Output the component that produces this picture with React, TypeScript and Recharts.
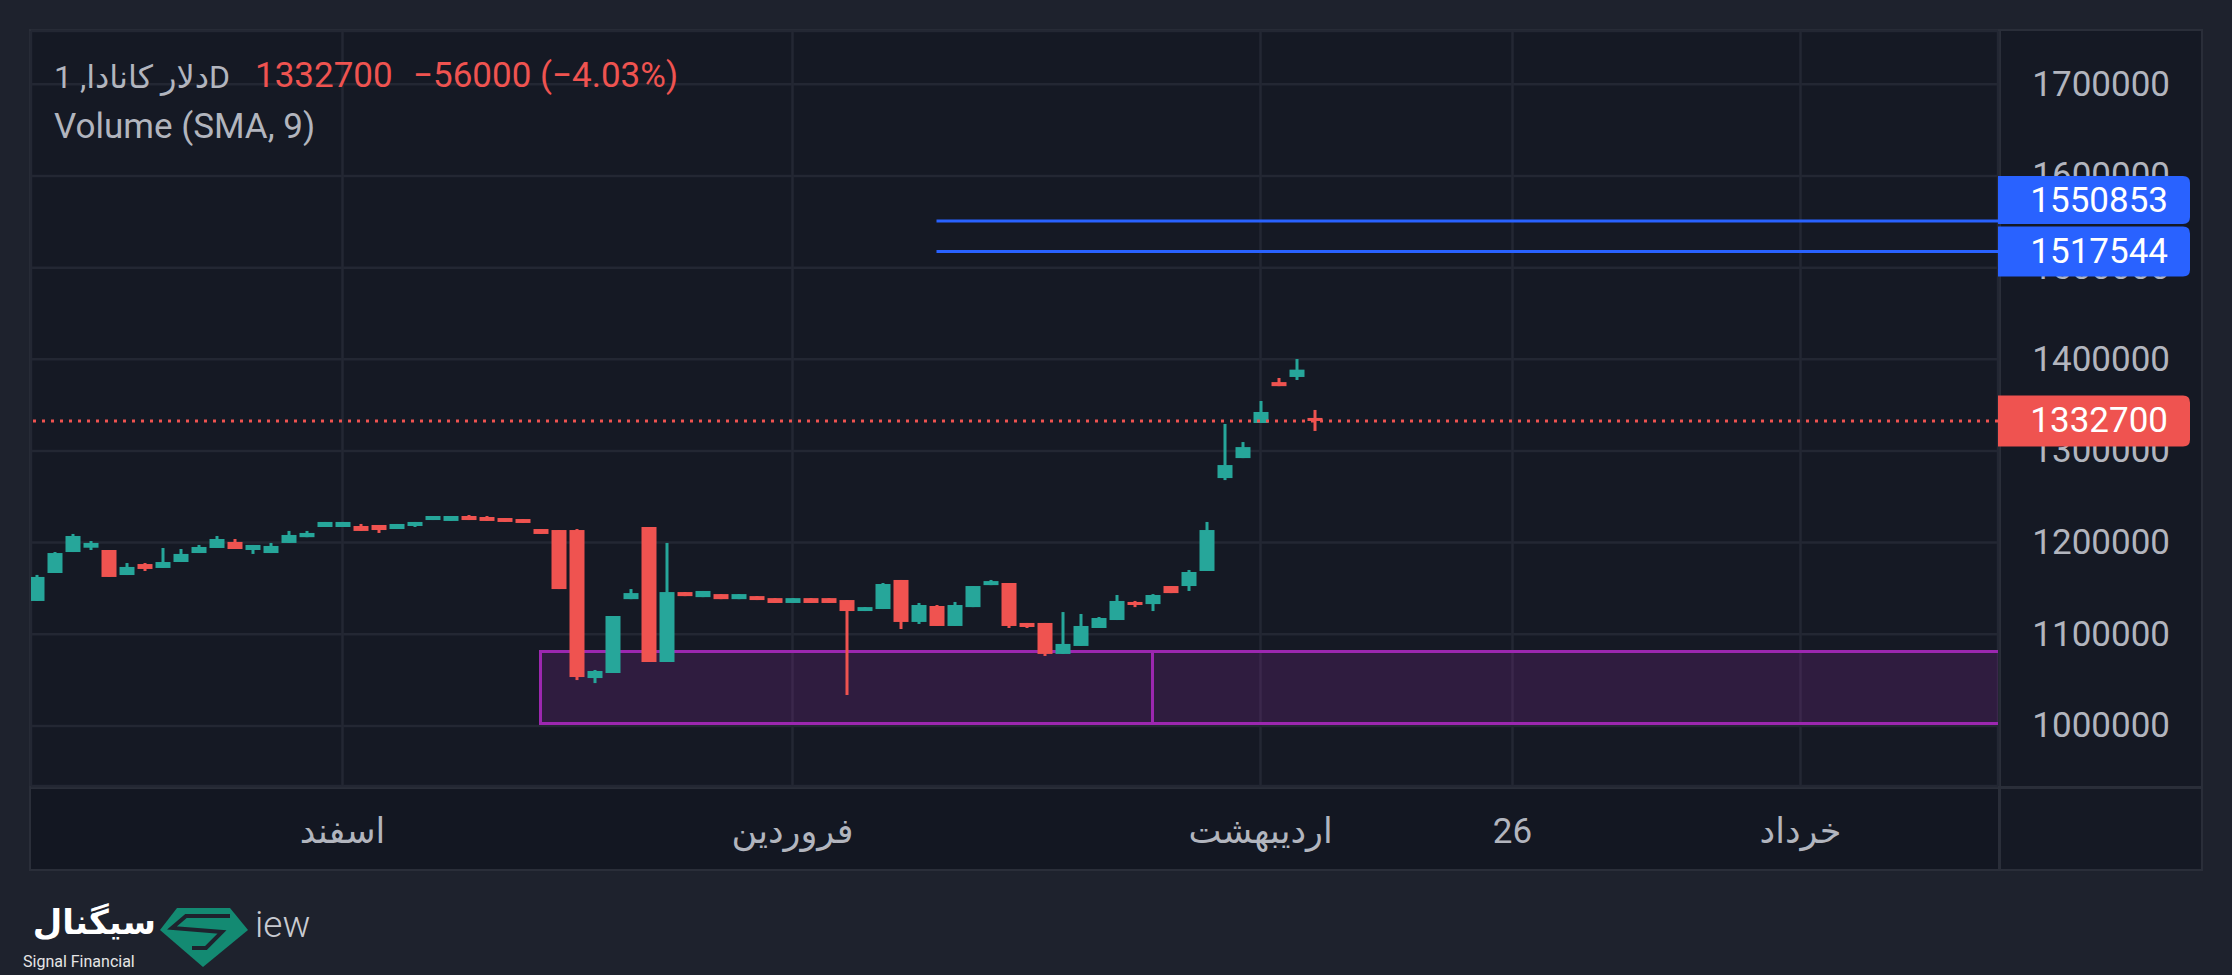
import React from 'react';
import { ComposedChart, Bar, XAxis, YAxis, CartesianGrid, ReferenceLine, ReferenceArea } from 'recharts';

// ---- data ----
const opens = [
  1136300, 1166800, 1189700, 1194400, 1191900, 1164600, 1176600, 1172300, 1178800, 1188600,
  1194100, 1200700, 1191900, 1188600, 1199600, 1205900, 1217000, 1217000, 1218100, 1219200,
  1214800, 1218100, 1224600, 1223600, 1229000, 1227900, 1226800, 1225700, 1214800, 1213700,
  1213700, 1052200, 1057700, 1138300, 1217000, 1069700, 1146000, 1140500, 1143800, 1138300,
  1141600, 1139400, 1134100, 1139400, 1139400, 1137300, 1125300, 1127500, 1159200, 1113400,
  1130800, 1109000, 1129600, 1153600, 1155900, 1112300, 1112300, 1078500, 1087200, 1106800,
  1115500, 1135200, 1132900, 1152600, 1152600, 1169000, 1270400, 1292200, 1330500, 1375100,
  1380700, 1336000,
];
const highs = [
  1164700, 1189700, 1209400, 1201700, 1191900, 1177700, 1177700, 1194100, 1193000, 1197400,
  1207200, 1203900, 1197400, 1199600, 1212700, 1212700, 1222500, 1222500, 1220300, 1219200,
  1220300, 1222500, 1229000, 1229000, 1230100, 1229000, 1226800, 1225700, 1214800, 1213700,
  1214800, 1061000, 1119900, 1149300, 1217000, 1199600, 1146000, 1147200, 1143800, 1143800,
  1141600, 1139400, 1139400, 1139400, 1139400, 1137300, 1129600, 1155900, 1159200, 1134100,
  1131900, 1135200, 1152600, 1159200, 1155900, 1112300, 1112300, 1124200, 1122100, 1118800,
  1142800, 1136300, 1143800, 1152600, 1170100, 1222500, 1329400, 1309700, 1354500, 1379600,
  1400300, 1344700,
];
const lows = [
  1136300, 1166800, 1189700, 1191900, 1162500, 1164600, 1169000, 1172300, 1178800, 1188600,
  1194100, 1193000, 1187600, 1188600, 1199600, 1205900, 1217000, 1217000, 1212700, 1210500,
  1214800, 1217000, 1224600, 1223600, 1224600, 1223600, 1222500, 1221400, 1209400, 1149300,
  1050000, 1046700, 1057700, 1138300, 1069700, 1069700, 1141600, 1140500, 1138300, 1138300,
  1137300, 1134100, 1134100, 1134100, 1134100, 1033700, 1125300, 1127500, 1105700, 1111200,
  1109000, 1109000, 1129600, 1153600, 1106800, 1106800, 1076300, 1078500, 1087200, 1106800,
  1115500, 1129600, 1125300, 1144900, 1147200, 1169000, 1268200, 1292200, 1330500, 1370700,
  1377400, 1321800,
];
const closes = [
  1162500, 1188600, 1207200, 1199600, 1162500, 1173400, 1171200, 1178800, 1187600, 1195200,
  1203900, 1193000, 1197400, 1196300, 1208300, 1210500, 1222500, 1222500, 1212700, 1213700,
  1220300, 1222500, 1229000, 1229000, 1224600, 1223600, 1222500, 1221400, 1209400, 1149300,
  1053300, 1059900, 1119900, 1144900, 1069700, 1146000, 1141600, 1147200, 1138300, 1143800,
  1137300, 1134100, 1139400, 1134100, 1134100, 1125300, 1129600, 1154800, 1113400, 1131900,
  1109000, 1131900, 1152600, 1158000, 1109000, 1107900, 1078500, 1089400, 1109000, 1117700,
  1136300, 1131900, 1142800, 1144900, 1167900, 1213700, 1284600, 1304200, 1342500, 1370700,
  1388700, 1332700,
];

const timeTicks = [17, 42, 68, 82, 98];
const timeLabels = ['اسفند', 'فروردین', 'اردیبهشت', '26', 'خرداد'];
const priceTicks = [1000000, 1100000, 1200000, 1300000, 1400000, 1500000, 1600000, 1700000];

const lastPrice = 1332700;
const levelA = 1550853;
const levelB = 1517544;
const levelStart = 50;
const zoneTop = 1081200;
const zoneBottom = 1002600;
const zoneStart = 28;
const zoneSplit = 62;
const zoneEnd = 112;

const X_DOMAIN: [number, number] = [-0.3056, 108.972];
const Y_DOMAIN: [number, number] = [934400, 1758200];

const GREEN = '#26a69a';
const RED = '#ef5350';
const BLUE = '#2962ff';
const PURPLE = '#9c27b0';
const TEXT = '#b2b5be';
const FONT = "Roboto, 'DejaVu Sans', 'Noto Sans', sans-serif";

const MARGIN = { top: 31, left: 31, right: 30, bottom: 106 };

const candles = opens.map((o, i) => ({ i, o, h: highs[i], l: lows[i], c: closes[i] }));

const Candle = (props: any) => {
  const { x, y, width, height, payload } = props;
  if (!payload || height == null || isNaN(y)) return null;
  const { o, h, l, c } = payload;
  const k = h - l > 0 ? height / (h - l) : 0;
  const color = c >= o ? GREEN : RED;
  const top = y + (h - Math.max(o, c)) * k;
  const bot = y + (h - Math.min(o, c)) * k;
  const cx = x + width / 2;
  return (
    <g>
      <rect x={cx - 1.5} y={y} width={3} height={Math.max(height, 1)} fill={color} />
      <rect x={x} y={top} width={width} height={Math.max(bot - top, 2)} fill={color} />
    </g>
  );
};

const makeLevelShape = (color: string, dash: string | undefined, text: string, shiftY: number, boxH: number) =>
  (props: any) => {
    const { x1, y1, x2, y2 } = props;
    if (x1 == null || isNaN(y1)) return null;
    const cy = y1 + shiftY;
    const bx = Math.max(x1, x2);
    const bw = 192;
    const r = 7;
    const t = cy - boxH / 2;
    const b = cy + boxH / 2;
    const d = `M${bx},${t} H${bx + bw - r} Q${bx + bw},${t} ${bx + bw},${t + r} V${b - r} Q${bx + bw},${b} ${bx + bw - r},${b} H${bx} Z`;
    return (
      <g>
        <line x1={x1} y1={y1} x2={x2} y2={y2} stroke={color} strokeWidth={3} strokeDasharray={dash} />
        <path d={d} fill={color} />
        <text x={bx + 170} y={cy} textAnchor="end" dominantBaseline="central" fill="#ffffff" fontSize={35} fontFamily={FONT}>
          {text}
        </text>
      </g>
    );
  };

const PriceTick = (props: any) => {
  const { x, y, payload } = props;
  return (
    <text x={x + 170} y={y} textAnchor="end" dominantBaseline="central" fill={TEXT} fontSize={35} fontFamily={FONT}>
      {payload.value}
    </text>
  );
};

const TimeTick = (props: any) => {
  const { x, y, payload } = props;
  const idx = timeTicks.indexOf(payload.value);
  return (
    <text x={x} y={y + 43} textAnchor="middle" dominantBaseline="central" fill={TEXT} fontSize={35} fontFamily={FONT}>
      {timeLabels[idx]}
    </text>
  );
};

export default function App() {
  return (
    <div style={{ position: 'fixed', left: 0, top: 0, width: 2232, height: 975, background: '#1e222d', overflow: 'hidden', fontFamily: FONT }}>
      {/* frame */}
      <div style={{ position: 'absolute', left: 29, top: 29, width: 2174, height: 842, boxSizing: 'border-box', border: '2px solid #2a2e39', background: '#151924' }} />
      <div style={{ position: 'absolute', left: 31, top: 789, width: 1967, height: 80, background: '#131722' }} />
      <div style={{ position: 'absolute', left: 1998, top: 29, width: 3, height: 842, background: '#2a2e39' }} />
      <div style={{ position: 'absolute', left: 29, top: 786, width: 2174, height: 3, background: '#2a2e39' }} />

      {/* main price chart */}
      <div style={{ position: 'absolute', left: 0, top: 0 }}>
        <ComposedChart width={2232} height={975} data={candles} margin={MARGIN}>
          <CartesianGrid stroke="#232733" strokeWidth={2.5} />
          <XAxis
            dataKey="i"
            type="number"
            domain={X_DOMAIN}
            allowDataOverflow
            ticks={timeTicks}
            interval={0}
            height={83}
            axisLine={false}
            tickLine={false}
            tickSize={0}
            tick={<TimeTick />}
          />
          <YAxis
            orientation="right"
            type="number"
            domain={Y_DOMAIN}
            allowDataOverflow
            ticks={priceTicks}
            interval={0}
            width={204}
            axisLine={false}
            tickLine={false}
            tickSize={0}
            tick={<PriceTick />}
          />
          <ReferenceArea x1={zoneStart} x2={zoneSplit} y1={zoneBottom} y2={zoneTop} fill={PURPLE} fillOpacity={0.2} stroke={PURPLE} strokeWidth={3} />
          <ReferenceArea x1={zoneSplit} x2={zoneEnd} y1={zoneBottom} y2={zoneTop} fill={PURPLE} fillOpacity={0.2} stroke={PURPLE} strokeWidth={3} ifOverflow="hidden" />
          <Bar dataKey={(d: any) => [d.l, d.h]} barSize={15} shape={<Candle />} isAnimationActive={false} />
        </ComposedChart>
      </div>

      {/* overlay: price lines with their axis labels, drawn above the axis ticks */}
      <div style={{ position: 'absolute', left: 0, top: 0 }}>
        <ComposedChart width={2232} height={975} data={candles} margin={MARGIN}>
          <XAxis dataKey="i" type="number" domain={X_DOMAIN} allowDataOverflow height={83} axisLine={false} tickLine={false} tick={false} />
          <YAxis orientation="right" type="number" domain={Y_DOMAIN} allowDataOverflow width={204} axisLine={false} tickLine={false} tick={false} />
          <ReferenceLine
            segment={[{ x: levelStart, y: levelA }, { x: X_DOMAIN[1], y: levelA }]}
            shape={makeLevelShape(BLUE, undefined, String(levelA), -21, 48)}
          />
          <ReferenceLine
            segment={[{ x: levelStart, y: levelB }, { x: X_DOMAIN[1], y: levelB }]}
            shape={makeLevelShape(BLUE, undefined, String(levelB), 0, 50)}
          />
          <ReferenceLine y={lastPrice} shape={makeLevelShape(RED, '3 6', String(lastPrice), 0, 51)} />
        </ComposedChart>
      </div>

      {/* legend */}
      <div style={{ position: 'absolute', left: 54, top: 56, fontSize: 32, lineHeight: '42px', color: TEXT, whiteSpace: 'pre' }}>
        دلار کانادا, 1D
      </div>
      <div style={{ position: 'absolute', left: 255, top: 55, fontSize: 35, lineHeight: '42px', color: RED, whiteSpace: 'pre' }}>
        1332700
      </div>
      <div style={{ position: 'absolute', left: 413, top: 55, fontSize: 35, lineHeight: '42px', color: RED, whiteSpace: 'pre' }}>
        −56000 (−4.03%)
      </div>
      <div style={{ position: 'absolute', left: 54, top: 106, fontSize: 35, lineHeight: '42px', color: TEXT, whiteSpace: 'pre' }}>
        Volume (SMA, 9)
      </div>

      {/* watermark logo */}
      <div style={{ position: 'absolute', left: 0, top: 900, width: 156, textAlign: 'right', fontSize: 34, fontWeight: 'bold', lineHeight: '44px', color: '#ffffff', fontFamily: "'DejaVu Sans', sans-serif" }}>
        سیگنال
      </div>
      <svg style={{ position: 'absolute', left: 0, top: 880 }} width={330} height={95}>
        <text x={23} y={87} fill="#e6e6e6" fontSize={16} fontFamily={FONT}>Signal Financial</text>
        <polygon points="177,28 230,28 248,50 203,87 160,50" fill="#138a72" />
        <polyline points="230,36 186,36 172,48 222,52 206,68 192,68" fill="none" stroke="#1e222d" strokeWidth={4} />
        <text x={255} y={57} fill="#c9cbd1" fontSize={37} fontWeight={300} fontFamily={FONT}>iew</text>
      </svg>
    </div>
  );
}
